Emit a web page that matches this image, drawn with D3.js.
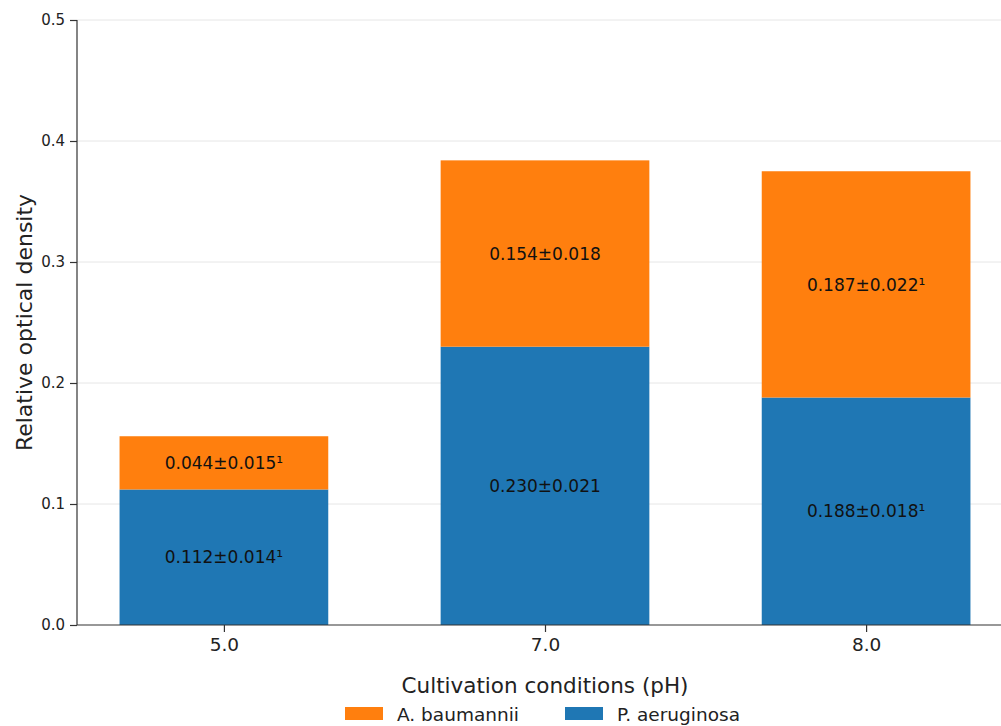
<!DOCTYPE html>
<html><head><meta charset="utf-8">
<script src="https://cdn.jsdelivr.net/npm/d3@7"></script>
<style>body{margin:0;background:#fff}svg text{font-family:"DejaVu Sans",sans-serif}</style>
</head><body><svg id="c" width="1001" height="726"></svg>
<script>
const categories = ["5.0", "7.0", "8.0"];
const paeruginosa = [0.112, 0.230, 0.188];
const abaumannii = [0.044, 0.154, 0.187];
const paLabels = ["0.112±0.014¹", "0.230±0.021", "0.188±0.018¹"];
const abLabels = ["0.044±0.015¹", "0.154±0.018", "0.187±0.022¹"];
const yTicks = [0.0, 0.1, 0.2, 0.3, 0.4, 0.5];
const seriesNames = ["A. baumannii", "P. aeruginosa"];
const colors = {ab: "#ff7f0e", pa: "#1f77b4"};

(function () {
const svg = d3.select("#c");
const mL = 77, mR = 1013, mT = 20, mB = 625;
const barW = 0.65;
const lo = -barW/2, hi = categories.length - 1 + barW/2, m = (hi - lo) * 0.05;
const x = d3.scaleLinear().domain([lo - m, hi + m]).range([mL, mR]);
const y = d3.scaleLinear().domain([0, 0.5]).range([mB, mT]);

// grid
svg.append("g").selectAll("line").data(yTicks.slice(1)).join("line")
  .attr("x1", mL).attr("x2", mR).attr("y1", d => y(d)).attr("y2", d => y(d))
  .attr("stroke", "#e6e6e6").attr("stroke-width", 1);

const data = categories.map((c, i) => ({i, c, pa: paeruginosa[i], ab: abaumannii[i], paL: paLabels[i], abL: abLabels[i]}));
const bw = x(barW) - x(0);
const g = svg.append("g");
g.selectAll("rect.pa").data(data).join("rect").attr("class", "pa")
  .attr("x", d => x(d.i - barW/2)).attr("width", bw)
  .attr("y", d => y(d.pa)).attr("height", d => y(0) - y(d.pa)).attr("fill", colors.pa);
g.selectAll("rect.ab").data(data).join("rect").attr("class", "ab")
  .attr("x", d => x(d.i - barW/2)).attr("width", bw)
  .attr("y", d => y(d.pa + d.ab)).attr("height", d => y(d.pa) - y(d.pa + d.ab)).attr("fill", colors.ab);
g.selectAll("text.pal").data(data).join("text").attr("class", "pal")
  .attr("x", d => x(d.i)).attr("y", d => y(d.pa/2)).attr("dy", "0.36em")
  .attr("text-anchor", "middle").attr("font-size", 17).attr("fill", "#111").text(d => d.paL);
g.selectAll("text.abl").data(data).join("text").attr("class", "abl")
  .attr("x", d => x(d.i)).attr("y", d => y(d.pa + d.ab/2)).attr("dy", "0.36em")
  .attr("text-anchor", "middle").attr("font-size", 17).attr("fill", "#111").text(d => d.abL);

// axes
const yAxis = d3.axisLeft(y).tickValues(yTicks).tickFormat(d3.format(".1f")).tickSize(7).tickPadding(5);
const ya = svg.append("g").attr("transform", `translate(${mL},0)`).call(yAxis);
const xAxis = d3.axisBottom(x).tickValues(categories.map((c, i) => i)).tickFormat(i => categories[i]).tickSize(7).tickPadding(6);
const xa = svg.append("g").attr("transform", `translate(0,${mB})`).call(xAxis);
[ya, xa].forEach(a => {
  a.select(".domain").remove();
  a.selectAll(".tick line").attr("stroke", "#333").attr("stroke-width", 1.2);
  a.selectAll(".tick text").attr("fill", "#222").attr("font-family", "DejaVu Sans");
});
ya.selectAll(".tick text").attr("font-size", 15);
xa.selectAll(".tick text").attr("font-size", 18.5);
svg.append("line").attr("x1", mL).attr("x2", mL).attr("y1", mT).attr("y2", mB).attr("stroke", "#333").attr("stroke-width", 1.2);
svg.append("line").attr("x1", mL).attr("x2", mR).attr("y1", mB).attr("y2", mB).attr("stroke", "#333").attr("stroke-width", 1.2);

svg.append("text").attr("transform", `translate(32,${(mT+mB)/2}) rotate(-90)`)
  .attr("text-anchor", "middle").attr("font-size", 22).attr("fill", "#222").text("Relative optical density");
svg.append("text").attr("x", (mL+mR)/2).attr("y", 693)
  .attr("text-anchor", "middle").attr("font-size", 21.5).attr("fill", "#222").text("Cultivation conditions (pH)");

// legend
const legend = [{n: seriesNames[0], c: colors.ab, x: 345}, {n: seriesNames[1], c: colors.pa, x: 565}];
const lg = svg.append("g").selectAll("g").data(legend).join("g").attr("transform", d => `translate(${d.x},707)`);
lg.append("rect").attr("width", 38).attr("height", 13).attr("fill", d => d.c);
lg.append("text").attr("x", 52).attr("y", 13.5).attr("font-size", 18.5).attr("fill", "#222").text(d => d.n);
})();
</script></body></html>
